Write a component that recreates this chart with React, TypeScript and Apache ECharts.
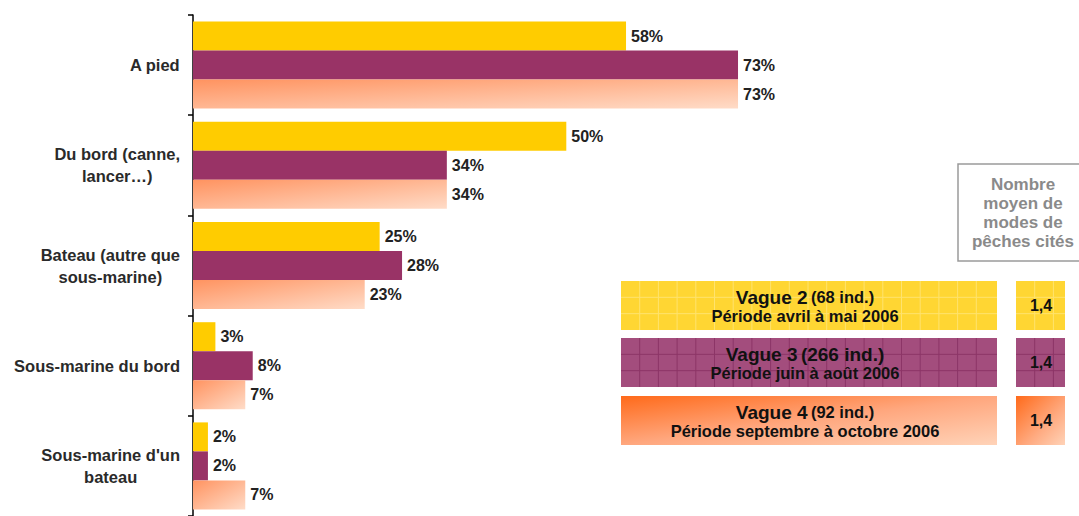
import React, { useEffect, useRef } from "react";
import * as echarts from "echarts";

const categories = [
  "A pied",
  "Du bord (canne,\nlancer…)",
  "Bateau (autre que\nsous-marine)",
  "Sous-marine du bord",
  "Sous-marine d'un\nbateau",
];
const vague2 = [58, 50, 25, 3, 2];
const vague3 = [73, 34, 28, 8, 2];
const vague4 = [73, 34, 23, 7, 7];

const legendTitles = ["Vague 2", "Vague 3", "Vague 4"];
const legendCounts = ["(68 ind.)", "(266 ind.)", "(92 ind.)"];
const legendPeriods = [
  "Période avril à mai 2006",
  "Période juin à août 2006",
  "Période septembre à octobre 2006",
];
const meanModes = ["1,4", "1,4", "1,4"];
const headerText = "Nombre\nmoyen de\nmodes de\npêches cités";

const FONT = "'Liberation Sans', Arial, sans-serif";
const YELLOW = "#FFCC00";
const PURPLE = "#993366";

function orangeGrad() {
  return new echarts.graphic.LinearGradient(0, 0, 1, 1, [
    { offset: 0, color: "#FF9360" },
    { offset: 1, color: "#FFDCC8" },
  ]);
}

function gridLines(x0: number, y0: number, w: number, h: number, color: string) {
  const els: any[] = [];
  const step = 18.7;
  for (let x = x0 + step; x < x0 + w - 2; x += step) {
    els.push({ type: "line", shape: { x1: x, y1: y0, x2: x, y2: y0 + h }, style: { stroke: color, lineWidth: 1 }, silent: true });
  }
  for (let k = 1; k < 3; k++) {
    const y = y0 + (h * k) / 3;
    els.push({ type: "line", shape: { x1: x0, y1: y, x2: x0 + w, y2: y }, style: { stroke: color, lineWidth: 1 }, silent: true });
  }
  return els;
}

export default function App() {
  const ref = useRef<HTMLDivElement>(null);
  useEffect(() => {
    if (!ref.current) return;
    const chart = echarts.init(ref.current, undefined, { renderer: "svg" });

    const boxFills = [
      "#FFD633",
      "#A34D7D",
      new echarts.graphic.LinearGradient(0, 0, 1, 1, [
        { offset: 0, color: "#FF6A1A" },
        { offset: 0.5, color: "#FFA77E" },
        { offset: 1, color: "#FFD3B8" },
      ]),
    ];
    const smallFills = [
      "#FFD633",
      "#A34D7D",
      new echarts.graphic.LinearGradient(0, 0, 1, 1, [
        { offset: 0, color: "#FF6A1A" },
        { offset: 0.6, color: "#FFAA80" },
        { offset: 1, color: "#FFD3B8" },
      ]),
    ];
    const lineColors = ["#FFE36E", "#8C3567", null];
    const boxTops = [281, 338, 396];
    const boxH = 49;
    const graphics: any[] = [];

    graphics.push({
      type: "rect",
      shape: { x: 958, y: 164, width: 140, height: 97 },
      style: { fill: "#fff", stroke: "#9a9a9a", lineWidth: 1.5 },
    });
    graphics.push({
      type: "text",
      x: 1023,
      y: 213,
      style: {
        text: headerText,
        fill: "#8a8a8a",
        font: `bold 17px ${FONT}`,
        align: "center",
        verticalAlign: "middle",
        lineHeight: 19,
      },
    });

    boxTops.forEach((top, i) => {
      graphics.push({ type: "rect", shape: { x: 621, y: top, width: 376, height: boxH }, style: { fill: boxFills[i] } });
      graphics.push({ type: "rect", shape: { x: 1016, y: top, width: 49, height: boxH }, style: { fill: smallFills[i] } });
      const lc = lineColors[i];
      if (lc) {
        gridLines(621, top, 376, boxH, lc).forEach((g) => graphics.push(g));
        gridLines(1016, top, 49, boxH, lc).forEach((g) => graphics.push(g));
      }
      graphics.push({
        type: "text",
        x: 805,
        y: top + 16,
        style: {
          text: `{a|${legendTitles[i]}} {b|${legendCounts[i]}}`,
          align: "center",
          verticalAlign: "middle",
          rich: {
            a: { font: `bold 19px ${FONT}`, fill: "#111" },
            b: { font: `bold ${i === 1 ? 19 : 16.5}px ${FONT}`, fill: "#111" },
          },
        },
      });
      graphics.push({
        type: "text",
        x: 805,
        y: top + 35,
        style: {
          text: legendPeriods[i],
          font: `bold 16.5px ${FONT}`,
          fill: "#111",
          align: "center",
          verticalAlign: "middle",
        },
      });
      graphics.push({
        type: "text",
        x: 1041,
        y: top + 24,
        style: {
          text: meanModes[i],
          font: `bold 16px ${FONT}`,
          fill: "#111",
          align: "center",
          verticalAlign: "middle",
        },
      });
    });

    const labelCfg = {
      show: true,
      position: "right" as const,
      distance: 5,
      formatter: "{c}%",
      color: "#222",
      fontWeight: "bold" as const,
      fontSize: 16,
      fontFamily: FONT,
    };

    chart.setOption({
      animation: false,
      grid: { left: 193, top: 15, width: 746.6, bottom: -6, containLabel: false },
      xAxis: { type: "value", min: 0, max: 100, show: false },
      yAxis: {
        type: "category",
        data: categories,
        inverse: true,
        axisLine: { show: true, lineStyle: { color: "#000", width: 1.5 } },
        axisTick: { show: true, length: 5, lineStyle: { color: "#000", width: 1.5 } },
        axisLabel: {
          margin: 13,
          align: "right",
          formatter: (v: string) =>
            v
              .split("\n")
              .map((l) => `{c|${l}}`)
              .join("\n"),
          rich: {
            c: {
              align: "center",
              color: "#2a2a2a",
              fontWeight: "bold",
              fontSize: 16.5,
              fontFamily: FONT,
              lineHeight: 22,
            },
          },
        },
        splitLine: { show: false },
      },
      series: [
        { type: "bar", name: "Vague 2", data: vague2, barWidth: 29, barGap: "0%", itemStyle: { color: YELLOW }, label: labelCfg },
        { type: "bar", name: "Vague 3", data: vague3, barWidth: 29, barGap: "0%", itemStyle: { color: PURPLE }, label: labelCfg },
        { type: "bar", name: "Vague 4", data: vague4, barWidth: 29, barGap: "0%", itemStyle: { color: orangeGrad() }, label: labelCfg },
      ],
      graphic: graphics,
    });
    return () => chart.dispose();
  }, []);

  return (
    <div
      ref={ref}
      style={{ position: "absolute", left: 0, top: 0, width: 1079, height: 516, background: "#fff" }}
    />
  );
}
